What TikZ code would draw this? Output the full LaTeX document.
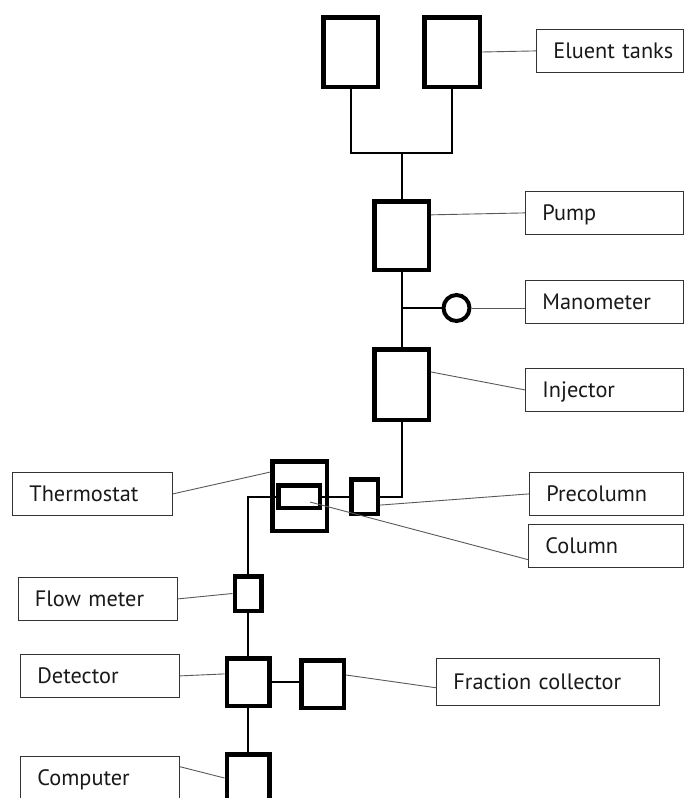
\documentclass[tikz,border=0pt]{standalone}
\usepackage{fontspec}
\setmainfont{PT Sans}
\begin{document}
\begin{tikzpicture}[x=1pt,y=-1pt,
		unit/.style 2 args={draw,line width=4.5pt,inner sep=0pt,minimum width=#1,minimum height=#2},
		tag/.style={draw=black!80,line width=0.8pt,anchor=north west,minimum height=43pt,inner xsep=17pt,inner ysep=0pt,text height=15.5pt,text depth=0pt,align=left,text width=#1,text=black!90,font=\fontsize{22.3}{26}\selectfont},
		flow/.style={line width=2pt},
		lead/.style={draw=black!65,line width=0.9pt}]
	%	\draw[help lines] (0,0) grid[step=50] (685,798);
		\useasboundingbox (0,0) rectangle (685,798);
		% components
		\node[unit={54.5}{69.5}] (tankA) at (350.5,52) {};
		\node[unit={55.5}{69.5}] (tankB) at (452,52) {};
		\node[unit={54.5}{68.5}] (pump) at (401.5,235.5) {};
		\node[circle,draw,line width=4pt,minimum size=26pt,inner sep=0pt] (mano) at (456.5,308) {};
		\node[unit={54.5}{70.5}] (injector) at (401.5,384.5) {};
		\node[unit={54.5}{69.5}] (thermo) at (299.5,496) {};
		\node[unit={41.5}{22.5}] (column) at (299,496.5) {};
		\node[unit={26.5}{34.5}] (precol) at (364.5,496.5) {};
		\node[unit={26.5}{34.5}] (flowm) at (248,593.5) {};
		\node[unit={42.5}{47.5}] (detector) at (248,682) {};
		\node[unit={42.5}{47.5}] (fraction) at (322.5,684) {};
		\node[unit={42.5}{47.5}] (computer) at (248,778) {};
		% labels
		\node[tag=113pt] (eluenttag) at (536,29) {\mbox{Eluent tanks}};
		\node[tag=124pt] (pumptag) at (525,191) {Pump};
		\node[tag=124pt] (manotag) at (525,280) {Manometer};
		\node[tag=124pt] (injtag) at (525,368) {Injector};
		\node[tag=120pt] (precoltag) at (529,472) {Precolumn};
		\node[tag=121pt] (coltag) at (528,524) {Column};
		\node[tag=126pt] (thermotag) at (12,472) {Thermostat};
		\node[tag=125.5pt] (flowtag) at (17.5,577) {Flow meter};
		\node[tag=125pt] (dettag) at (20,654) {Detector};
		\node[tag=189pt,minimum height=47pt] (fractag) at (436,658) {Fraction collector};
		\node[tag=125pt] (comptag) at (20,756) {Computer};
		% tubing
		\coordinate (merge) at (401.5,153);
		\coordinate (colpin) at (310,502);
		\draw[flow] (tankA.south) |- (merge) -| (tankB.south);
		\draw[flow] (merge) -- (pump.north);
		\draw[flow] (pump.south) -- (injector.north);
		\draw[flow] (pump.south |- mano) -- (mano.west);
		\draw[flow] (injector.south) |- (precol.east);
		\draw[flow] (precol.west) -- (column.east);
		\draw[flow] (column.west) -| (flowm.north);
		\draw[flow] (flowm.south) -- (detector.north);
		\draw[flow] (detector.south) -- (computer.north);
		\draw[flow] (detector.east) -- (detector.east -| fraction.west);
		% leaders
		\draw[lead] (tankB.east) -- (eluenttag.west);
		\draw[lead] (pump.35) -- (pumptag.west);
		\draw[lead] (mano.east) -- (mano -| manotag.west);
		\draw[lead] (injector.23) -- (injtag.west);
		\draw[lead] (thermotag.east) -- (thermo.141);
		\draw[lead] (precol.-29) -- (precoltag.west);
		\draw[lead] (colpin) -- (coltag.-170);
		\draw[lead] (flowtag.east) -- (flowm.west);
		\draw[lead] (dettag.east) -- (detector.161);
		\draw[lead] (fraction.21) -- (fractag.-177);
		\draw[lead] (comptag.8) -- (computer.west);
\end{tikzpicture}
\end{document}
